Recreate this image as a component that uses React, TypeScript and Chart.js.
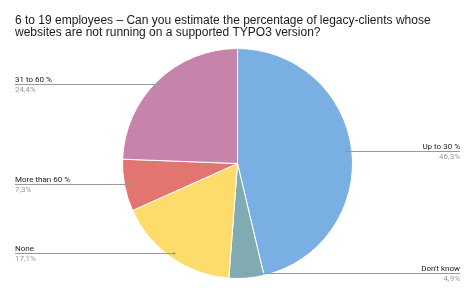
import React, { useEffect, useRef } from "react";
import { Chart, registerables } from "chart.js";

Chart.register(...registerables);

const TITLE_LINES = [
  "6 to 19 employees – Can you estimate the percentage of legacy-clients whose",
  "websites are not running on a supported TYPO3 version?",
];
const CATEGORIES = ["Up to 30 %", "Don't know", "None", "More than 60 %", "31 to 60 %"];
const VALUES = [46.3, 4.9, 17.1, 7.3, 24.4];
const VALUE_LABELS = ["46,3%", "4,9%", "17,1%", "7,3%", "24,4%"];
const COLORS = ["#7AAFE3", "#80ABB2", "#FEDC6C", "#E27570", "#C684AA"];

const labelPlugin = {
  id: "sideLabels",
  afterDraw(chart: any) {
    const ctx = chart.ctx as CanvasRenderingContext2D;
    ctx.save();
    // title
    ctx.fillStyle = "#1a1a1a";
    ctx.font = "12px 'Liberation Sans', Arial, sans-serif";
    ctx.textAlign = "left";
    ctx.textBaseline = "alphabetic";
    ctx.fillText(TITLE_LINES[0], 15, 24);
    ctx.fillText(TITLE_LINES[1], 15, 36);

    const meta = chart.getDatasetMeta(0);
    const W = chart.width;
    meta.data.forEach((arc: any, i: number) => {
      const mid = (arc.startAngle + arc.endAngle) / 2;
      const r = arc.outerRadius * 0.955;
      const ax = arc.x + Math.cos(mid) * r;
      const ay = arc.y + Math.sin(mid) * r;
      const right = Math.cos(mid) >= 0;
      const endX = right ? W - 15 : 15;
      ctx.strokeStyle = "#9a9a9a";
      ctx.lineWidth = 1;
      ctx.beginPath();
      ctx.moveTo(ax, Math.round(ay) + 0.5);
      ctx.lineTo(endX, Math.round(ay) + 0.5);
      ctx.stroke();
      ctx.fillStyle = "#999";
      ctx.beginPath();
      ctx.arc(ax, Math.round(ay) + 0.5, 1.2, 0, Math.PI * 2);
      ctx.fill();
      ctx.textAlign = right ? "right" : "left";
      ctx.font = "8px Roboto, 'Liberation Sans', sans-serif";
      ctx.fillStyle = "#222";
      ctx.textBaseline = "alphabetic";
      ctx.fillText(CATEGORIES[i], endX, Math.round(ay) - 2);
      ctx.fillStyle = "#999";
      ctx.textBaseline = "top";
      ctx.fillText(VALUE_LABELS[i], endX, Math.round(ay) + 2);
    });
    ctx.restore();
  },
};

export default function App() {
  const ref = useRef<HTMLCanvasElement>(null);
  useEffect(() => {
    document.body.style.margin = "0";
    const chart = new Chart(ref.current!, {
      type: "pie",
      data: {
        labels: CATEGORIES,
        datasets: [
          {
            data: VALUES,
            backgroundColor: COLORS,
            borderColor: "#ffffff",
            borderWidth: 1,
          },
        ],
      },
      options: {
        animation: false,
        responsive: false,
        layout: { padding: { top: 48, bottom: 15, left: 0, right: 0 } },
        plugins: {
          legend: { display: false },
          tooltip: { enabled: false },
          title: { display: false },
        },
      },
      plugins: [labelPlugin],
    });
    return () => chart.destroy();
  }, []);
  return (
    <div style={{ width: 475, height: 294 }}>
      <canvas ref={ref} width={475} height={294} />
    </div>
  );
}
